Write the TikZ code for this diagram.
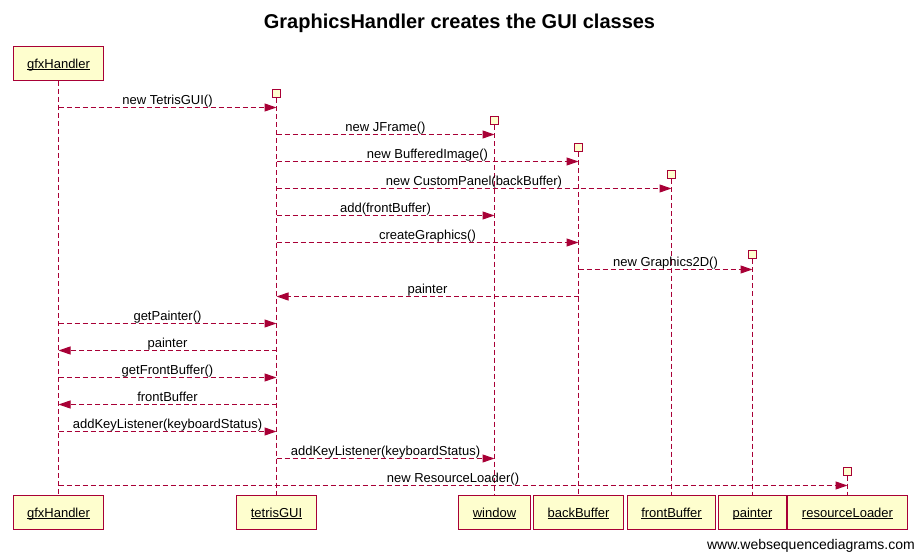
\documentclass[tikz,border=0pt]{standalone}
\usepackage{fontspec}
\setmainfont{Liberation Sans}
\usepackage{tikz}
\usetikzlibrary{arrows.meta,positioning}
\definecolor{wsdred}{RGB}{168,0,54}
\definecolor{wsdfill}{RGB}{254,254,206}
\newcommand{\objname}[1]{\underline{\smash{#1}}}
\tikzstyle{actor}=[rectangle,draw=wsdred,fill=wsdfill,line width=1bp,text height=9.5bp,text depth=0pt,
                  minimum height=34bp,inner xsep=14bp,font=\fontsize{13bp}{15bp}\selectfont]
\tikzstyle{birth}=[rectangle,draw=wsdred,fill=wsdfill,line width=1bp,minimum size=8bp,inner sep=0pt]
\tikzstyle{life}=[draw=wsdred,line width=1bp,dash pattern=on 5bp off 3bp]
\tikzstyle{msg}=[-{Triangle[length=12bp,width=8bp]},draw=wsdred,line width=1bp,dash pattern=on 5bp off 3bp]
\tikzstyle{lbl}=[anchor=base,inner sep=0pt,yshift=3bp,font=\fontsize{13bp}{15bp}\selectfont]

\begin{document}
\begin{tikzpicture}[x=1bp,y=-1bp]
      \useasboundingbox (0,0) rectangle (917,552);
      \node[font=\fontsize{20bp}{24bp}\selectfont\bfseries] (title) at (459.5,23) {GraphicsHandler creates the GUI classes};
      % lifeline heads and feet
      \node[actor] (gfxH) at (58.5,63.5) {\objname{gfxHandler}};
      \node[actor] (gfxF) at (58.5,512.5) {\objname{gfxHandler}};
      \node[actor] (guiF) at (276.5,512.5) {\objname{tetrisGUI}};
      \node[actor] (winF) at (494.5,512.5) {\objname{window}};
      \node[actor] (backF) at (578.5,512.5) {\objname{backBuffer}};
      \node[actor] (frontF) at (671.5,512.5) {\objname{frontBuffer}};
      \node[actor] (paintF) at (752.5,512.5) {\objname{painter}};
      \node[actor] (resF) at (847.5,512.5) {\objname{resourceLoader}};
      % creation boxes
      \node[birth] (guiS) at (276.5,94) {};
      \node[birth] (winS) at (494.5,121) {};
      \node[birth] (backS) at (578.5,148) {};
      \node[birth] (frontS) at (671.5,175) {};
      \node[birth] (paintS) at (752.5,255) {};
      \node[birth] (resS) at (847.5,471) {};
      % lifelines
      \draw[life] (gfxH) -- (gfxF);
      \draw[life] (guiS) -- (guiF);
      \draw[life] (winS) -- (winF);
      \draw[life] (backS) -- (backF);
      \draw[life] (frontS) -- (frontF);
      \draw[life] (paintS) -- (paintF);
      \draw[life] (resS) -- (resF);
      % message rows
      \coordinate (r1) at (0,107.5);
      \coordinate (r2) at (0,134.5);
      \coordinate (r3) at (0,161.5);
      \coordinate (r4) at (0,188.5);
      \coordinate (r5) at (0,215.5);
      \coordinate (r6) at (0,242.5);
      \coordinate (r7) at (0,269.5);
      \coordinate (r8) at (0,296.5);
      \coordinate (r9) at (0,323.5);
      \coordinate (r10) at (0,350.5);
      \coordinate (r11) at (0,377.5);
      \coordinate (r12) at (0,404.5);
      \coordinate (r13) at (0,431.5);
      \coordinate (r14) at (0,458.5);
      \coordinate (r15) at (0,485.5);
      \draw[msg] (gfxH |- r1) -- node[lbl] {new TetrisGUI()} (guiS |- r1);
      \draw[msg] (guiS |- r2) -- node[lbl] {new JFrame()} (winS |- r2);
      \draw[msg] (guiS |- r3) -- node[lbl] {new BufferedImage()} (backS |- r3);
      \draw[msg] (guiS |- r4) -- node[lbl] {new CustomPanel(backBuffer)} (frontS |- r4);
      \draw[msg] (guiS |- r5) -- node[lbl] {add(frontBuffer)} (winS |- r5);
      \draw[msg] (guiS |- r6) -- node[lbl] {createGraphics()} (backS |- r6);
      \draw[msg] (backS |- r7) -- node[lbl] {new Graphics2D()} (paintS |- r7);
      \draw[msg] (backS |- r8) -- node[lbl] {painter} (guiS |- r8);
      \draw[msg] (gfxH |- r9) -- node[lbl] {getPainter()} (guiS |- r9);
      \draw[msg] (guiS |- r10) -- node[lbl] {painter} (gfxH |- r10);
      \draw[msg] (gfxH |- r11) -- node[lbl] {getFrontBuffer()} (guiS |- r11);
      \draw[msg] (guiS |- r12) -- node[lbl] {frontBuffer} (gfxH |- r12);
      \draw[msg] (gfxH |- r13) -- node[lbl] {addKeyListener(keyboardStatus)} (guiS |- r13);
      \draw[msg] (guiS |- r14) -- node[lbl] {addKeyListener(keyboardStatus)} (winS |- r14);
      \draw[msg] (gfxH |- r15) -- node[lbl] {new ResourceLoader()} (resS |- r15);
      \node[anchor=base east,inner sep=0pt,font=\fontsize{14bp}{16bp}\selectfont] (credit) at (915,549) {www.websequencediagrams.com};
    \end{tikzpicture}
\end{document}
